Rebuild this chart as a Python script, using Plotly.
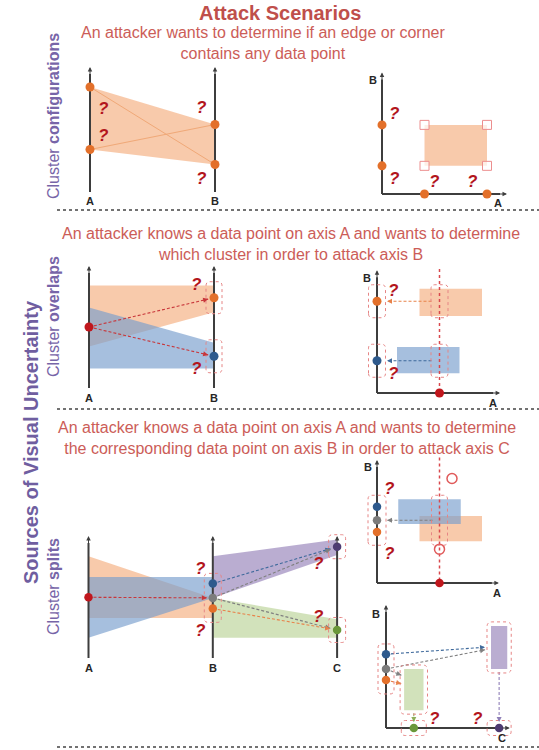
import math
import plotly.graph_objects as go

W, H = 539, 750

# ---------------- data (every attribute axis uses a 0-10 scale) ----------------
# top: one cluster on axes A and B
cfg_a = [3.4, 8.4]
cfg_b = [2.2, 5.4]
q1_x, q1_y = [0.11, 0.11, 0.89, 0.89], [6.7, 4.5, 6.8, 1.1]
q2_x, q2_y = [0.96, 0.96, 4.2, 7.2], [6.3, 1.2, 0.95, 0.95]

# middle: two overlapping clusters
ovl_orange_a = [3.4, 8.4]
ovl_orange_b = [6.2, 8.4]
ovl_blue_a = [1.6, 6.6]
ovl_blue_b = [1.6, 3.7]
ovl_known_a = 5.0
ovl_dots_b = [7.4, 2.6]            # orange, blue
q3_x, q3_y = [0.86, 0.86], [8.5, 1.6]
q4_x, q4_y = [1.3, 1.3], [8.3, 1.6]

# bottom: cluster splits on A, B, C
split_orange_a = [3.1, 8.3]
split_orange_b = [3.1, 4.8]
split_blue_a = [1.45, 6.55]
split_blue_b = [4.8, 6.55]
split_purple_b = [4.8, 8.3]
split_purple_c = [8.4, 9.7]
split_green_b = [1.45, 4.8]
split_green_c = [1.45, 3.0]
split_known_a = 4.85
split_dots_b = [6.0, 4.8, 3.9]     # blue, gray, orange
split_dots_c = [9.1, 2.1]          # purple, green
q5_x, q5_y = [0.9, 0.9, 1.85, 1.85], [7.3, 2.1, 7.7, 3.2]

# bottom scatter A-B
split_sc_blue_a = [1.7, 6.7]
split_sc_blue_b = [4.8, 6.8]
split_sc_orange_a = [3.4, 8.4]
split_sc_orange_b = [3.4, 5.45]
split_sc_known_a = 5.0
split_sc_dots_b = [6.2, 5.1, 4.15]
split_sc_ghost_a = [6.0, 5.0]
split_sc_ghost_b = [8.5, 2.75]
q6_x, q6_y = [0.96, 0.96], [7.7, 2.4]

# bottom scatter C-B
q7_x, q7_y = [3.9, 7.3], [0.8, 0.8]

# ---------------- styles ----------------
ORANGE_F = "rgba(244,170,120,0.62)"
BLUE_F = "rgba(118,156,204,0.65)"
PURPLE_F = "rgba(140,118,178,0.6)"
GREEN_F = "rgba(165,198,120,0.5)"
ORANGE, BLUE, GRAY, RED = "#e3702a", "#2e5a8d", "#7c7c7c", "#c0171d"
PURPLE, GREEN = "#4d3b72", "#6a983a"
A_RED, A_ORANGE, A_BLUE, A_GRAY = "#c8363a", "#e8824a", "#3f6a9c", "#808080"
BOX = "#e68585"
AXIS = "#3d3d3d"
QCOL = "#b3161d"
FONT = "Liberation Sans"
DASH = "3px,2px"

fig = go.Figure()
panels = {}


def names(n):
    s = "" if n == 1 else str(n)
    return "x" + s, "y" + s


def add_panel(n, ox, oy, ux, uy, xr, yr):
    xs, ys = names(n)
    left, right = ox + xr[0] * ux, ox + xr[1] * ux
    top, bottom = oy - yr[1] * uy, oy - yr[0] * uy
    fig.update_layout(**{
        "xaxis" + xs[1:]: dict(domain=[left / W, right / W], range=xr, visible=False,
                               fixedrange=True, anchor=ys),
        "yaxis" + ys[1:]: dict(domain=[1 - bottom / H, 1 - top / H], range=yr, visible=False,
                               fixedrange=True, anchor=xs),
    })
    panels[n] = (ux, uy)


def band(n, xs, ys, fill):
    xr, yr = names(n)
    fig.add_trace(go.Scatter(x=xs + xs[:1], y=ys + ys[:1], xaxis=xr, yaxis=yr, mode="lines",
                             fill="toself", fillcolor=fill, line=dict(width=0),
                             hoverinfo="skip", showlegend=False))


def rect(n, xa, yb, fill):
    band(n, [xa[0], xa[1], xa[1], xa[0]], [yb[0], yb[0], yb[1], yb[1]], fill)


def seg(n, x0, y0, x1, y1, color, width=1.0, dash="solid"):
    xr, yr = names(n)
    fig.add_trace(go.Scatter(x=[x0, x1], y=[y0, y1], xaxis=xr, yaxis=yr, mode="lines",
                             line=dict(color=color, width=width, dash=dash),
                             hoverinfo="skip", showlegend=False))


def head(n, x, y, dx, dy, color, width=1.0, size=1.0, length=5):
    xr, yr = names(n)
    fig.add_annotation(x=x, y=y, xref=xr, yref=yr, ax=-dx * length, ay=-dy * length,
                       text="", showarrow=True, arrowhead=2, arrowsize=size,
                       arrowwidth=width, arrowcolor=color)


def arrow(n, x0, y0, x1, y1, color, start_off=5, end_off=6, dash=DASH):
    ux, uy = panels[n]
    px, py = (x1 - x0) * ux, -(y1 - y0) * uy
    length = math.hypot(px, py)
    dx, dy = px / length, py / length
    sx, sy = x0 + start_off * dx / ux, y0 - start_off * dy / uy
    ex, ey = x1 - end_off * dx / ux, y1 + end_off * dy / uy
    seg(n, sx, sy, ex, ey, color, 1.1, dash)
    head(n, ex, ey, dx, dy, color, width=1.0, size=1.0, length=4)


def v_axis(n, x, y0, y1):
    uy = panels[n][1]
    seg(n, x, y0, x, y1 - 7 / uy, AXIS, 2)
    head(n, x, y1, 0, -1, AXIS, width=1.0, size=0.9, length=9)


def h_axis(n, y, x0, x1):
    ux = panels[n][0]
    seg(n, x0, y, x1 - 7 / ux, y, AXIS, 2)
    head(n, x1, y, 1, 0, AXIS, width=1.0, size=0.9, length=9)


def dots(n, xs, ys, colors, size=9):
    xr, yr = names(n)
    fig.add_trace(go.Scatter(x=xs, y=ys, xaxis=xr, yaxis=yr, mode="markers",
                             marker=dict(size=size, color=colors, line=dict(width=0)),
                             cliponaxis=False, hoverinfo="skip", showlegend=False))


def rbox(n, xc, yc, hw, hh, r=4):
    xr, yr = names(n)
    path = (f"M{-hw},{-hh + r} L{-hw},{hh - r} Q{-hw},{hh} {-hw + r},{hh} "
            f"L{hw - r},{hh} Q{hw},{hh} {hw},{hh - r} L{hw},{-hh + r} "
            f"Q{hw},{-hh} {hw - r},{-hh} L{-hw + r},{-hh} Q{-hw},{-hh} {-hw},{-hh + r} Z")
    fig.add_shape(type="path", xref=xr, yref=yr, xsizemode="pixel", ysizemode="pixel",
                  xanchor=xc, yanchor=yc, path=path,
                  line=dict(color=BOX, width=1, dash="dot"))


def wrap(n, xa, yb, pad=4):
    ux, uy = panels[n]
    rbox(n, (xa[0] + xa[1]) / 2, (yb[0] + yb[1]) / 2,
         (xa[1] - xa[0]) / 2 * ux + pad, (yb[1] - yb[0]) / 2 * uy + pad, r=5)


def corner(n, x, y):
    xr, yr = names(n)
    fig.add_shape(type="rect", xref=xr, yref=yr, xsizemode="pixel", ysizemode="pixel",
                  xanchor=x, yanchor=y, x0=-4.5, x1=4.5, y0=-4.5, y1=4.5,
                  line=dict(color="#ec8e8e", width=1), fillcolor="rgba(255,255,255,0.7)")


def qmarks(n, xs, ys):
    xr, yr = names(n)
    for x, y in zip(xs, ys):
        fig.add_annotation(x=x, y=y, xref=xr, yref=yr, text="<b><i>?</i></b>", showarrow=False,
                           font=dict(size=17, color=QCOL, family=FONT))


def label(n, x, y, text, xs=0, ys=0):
    xr, yr = names(n)
    fig.add_annotation(x=x, y=y, xref=xr, yref=yr, text=f"<b>{text}</b>", showarrow=False,
                       xshift=xs, yshift=ys, font=dict(size=11, color="#262626", family=FONT))


def paper_text(x, y, text, size, color, angle=0):
    fig.add_annotation(x=x / W, y=1 - y / H, xref="paper", yref="paper", text=text,
                       xanchor="center", yanchor="middle",
                       showarrow=False, textangle=angle, align="center",
                       font=dict(size=size, color=color, family=FONT))


# ---------------- panels ----------------
add_panel(1, 90, 192, 125, 12.5, [-0.35, 1.35], [-1.6, 11])
add_panel(2, 382, 194, 12.5, 12.8, [-1.5, 10.5], [-1.5, 10.5])
add_panel(3, 89, 388, 125, 12.2, [-0.35, 1.35], [-1.6, 11])
add_panel(4, 377, 393, 12.5, 12.4, [-1.5, 10.5], [-1.5, 10.8])
add_panel(5, 88.5, 655, 124.3, 11.9, [-0.35, 2.35], [-1.6, 11])
add_panel(6, 377, 583, 12.5, 12.3, [-1.5, 10.5], [-1.5, 11])
add_panel(7, 386, 728, 12.5, 12.3, [-1.5, 10.5], [-1.5, 10.5])

# --- top left: parallel coordinates, one cluster
band(1, [0, 1, 1, 0], [cfg_a[1], cfg_b[1], cfg_b[0], cfg_a[0]], ORANGE_F)
seg(1, 0, cfg_a[1], 1, cfg_b[0], "#f0a877", 1)
seg(1, 0, cfg_a[0], 1, cfg_b[1], "#f0a877", 1)
v_axis(1, 0, 0, 10)
v_axis(1, 1, 0, 10)
dots(1, [0, 0, 1, 1], cfg_a + cfg_b, ORANGE)
label(1, 0, 0, "A", ys=-9)
label(1, 1, 0, "B", ys=-9)
qmarks(1, q1_x, q1_y)

# --- top right: scatter A-B
rect(2, cfg_a, cfg_b, ORANGE_F)
h_axis(2, 0, 0, 10)
v_axis(2, 0, 0, 9.5)
dots(2, [0, 0] + cfg_a, cfg_b + [0, 0], ORANGE)
for xa in cfg_a:
    for yb in cfg_b:
        corner(2, xa, yb)
label(2, 0, 9.5, "B", xs=-9, ys=-8)
label(2, 10, 0, "A", xs=-9, ys=-9)
qmarks(2, q2_x, q2_y)

# --- middle left: parallel coordinates, overlapping clusters
band(3, [0, 1, 1, 0], [ovl_orange_a[1], ovl_orange_b[1], ovl_orange_b[0], ovl_orange_a[0]], ORANGE_F)
band(3, [0, 1, 1, 0], [ovl_blue_a[1], ovl_blue_b[1], ovl_blue_b[0], ovl_blue_a[0]], BLUE_F)
v_axis(3, 0, 0, 10)
v_axis(3, 1, 0, 10)
for yb in ovl_dots_b:
    arrow(3, 0, ovl_known_a, 1, yb, A_RED, start_off=5, end_off=6)
dots(3, [0, 1, 1], [ovl_known_a] + ovl_dots_b, [RED, ORANGE, BLUE])
rbox(3, 1, ovl_dots_b[0], 8, 16)
rbox(3, 1, ovl_dots_b[1], 8, 16.5)
label(3, 0, 0, "A", ys=-10)
label(3, 1, 0, "B", ys=-10)
qmarks(3, q3_x, q3_y)

# --- middle right: scatter A-B
rect(4, ovl_orange_a, ovl_orange_b, ORANGE_F)
rect(4, ovl_blue_a, ovl_blue_b, BLUE_F)
h_axis(4, 0, 0, 9.85)
v_axis(4, 0, 0, 9.9)
seg(4, ovl_known_a, 10, ovl_known_a, 0, "#d9484d", 1.5, "dot")
arrow(4, ovl_known_a, ovl_dots_b[0], 0, ovl_dots_b[0], A_ORANGE, start_off=8, end_off=10)
arrow(4, ovl_known_a, ovl_dots_b[1], 0, ovl_dots_b[1], A_BLUE, start_off=8, end_off=10)
dots(4, [0, 0, ovl_known_a], ovl_dots_b + [0], [ORANGE, BLUE, RED])
for yb in ovl_dots_b:
    rbox(4, 0, yb, 8.5, 16.5)
    rbox(4, ovl_known_a, yb, 8.5, 16.5)
label(4, 0, 9.9, "B", xs=-10, ys=-8)
label(4, 9.85, 0, "A", xs=-7, ys=-10)
qmarks(4, q4_x, q4_y)

# --- bottom left: parallel coordinates, cluster splits
band(5, [0, 1, 1, 0], [split_orange_a[1], split_orange_b[1], split_orange_b[0], split_orange_a[0]], ORANGE_F)
band(5, [0, 1, 1, 0], [split_blue_a[1], split_blue_b[1], split_blue_b[0], split_blue_a[0]], BLUE_F)
band(5, [1, 2, 2, 1], [split_purple_b[1], split_purple_c[1], split_purple_c[0], split_purple_b[0]], PURPLE_F)
band(5, [1, 2, 2, 1], [split_green_b[1], split_green_c[1], split_green_c[0], split_green_b[0]], GREEN_F)
for xi in range(3):
    v_axis(5, xi, -0.25, 10)
arrow(5, 0, split_known_a, 1, split_dots_b[1], A_RED, start_off=5, end_off=6)
arrow(5, 1, split_dots_b[0], 2, split_dots_c[0], A_BLUE, end_off=7)
arrow(5, 1, split_dots_b[1], 2, split_dots_c[0], A_GRAY, end_off=7)
arrow(5, 1, split_dots_b[1], 2, split_dots_c[1], A_GRAY, end_off=7)
arrow(5, 1, split_dots_b[2], 2, split_dots_c[1], A_ORANGE, end_off=7)
dots(5, [0, 1, 1, 1, 2, 2], [split_known_a] + split_dots_b + split_dots_c,
     [RED, BLUE, GRAY, ORANGE, PURPLE, GREEN], size=8.5)
rbox(5, 1, split_dots_b[1], 8.5, 24.5)
rbox(5, 2, split_dots_c[0], 8.5, 12)
rbox(5, 2, split_dots_c[1], 8.5, 12.5)
for xi, name in enumerate(["A", "B", "C"]):
    label(5, xi, -0.25, name, ys=-10)
qmarks(5, q5_x, q5_y)

# --- bottom right (upper): scatter A-B
rect(6, split_sc_orange_a, split_sc_orange_b, ORANGE_F)
rect(6, split_sc_blue_a, split_sc_blue_b, BLUE_F)
h_axis(6, 0, 0, 9.75)
v_axis(6, 0, 0, 10)
seg(6, split_sc_known_a, 10.2, split_sc_known_a, 0, "#d9484d", 1.5, "dot")
xr6, yr6 = names(6)
fig.add_trace(go.Scatter(x=split_sc_ghost_a, y=split_sc_ghost_b, xaxis=xr6, yaxis=yr6,
                         mode="markers", cliponaxis=False, hoverinfo="skip", showlegend=False,
                         marker=dict(size=10, symbol="circle-open", color="#e05a5a",
                                     line=dict(width=1.5))))
arrow(6, split_sc_known_a, split_sc_dots_b[1], 0, split_sc_dots_b[1], A_GRAY, start_off=7, end_off=10)
dots(6, [0, 0, 0, split_sc_known_a], split_sc_dots_b + [0], [BLUE, GRAY, ORANGE, RED], size=8.5)
rbox(6, 0, split_sc_dots_b[1], 9, 25)
rbox(6, split_sc_known_a, split_sc_dots_b[1], 8, 25)
label(6, 0, 10, "B", xs=-9, ys=-7)
label(6, 9.75, 0, "A", xs=-2, ys=-10)
qmarks(6, q6_x, q6_y)

# --- bottom right (lower): scatter C-B
green_c_mid = (split_green_c[0] + split_green_c[1]) / 2
purple_c_mid = (split_purple_c[0] + split_purple_c[1]) / 2
rect(7, split_green_c, split_green_b, GREEN_F)
rect(7, split_purple_c, split_purple_b, PURPLE_F)
h_axis(7, 0, 0, 9.9)
v_axis(7, 0, 0, 10)
arrow(7, 0, split_dots_b[0], split_purple_c[0], 6.6, A_BLUE, start_off=5, end_off=6)
arrow(7, 0, split_dots_b[1], split_purple_c[0], 6.45, A_GRAY, start_off=5, end_off=6)
arrow(7, 0, split_dots_b[1], split_green_c[0], 4.2, A_GRAY, start_off=5, end_off=3)
arrow(7, 0, split_dots_b[2], split_green_c[0], 3.55, A_ORANGE, start_off=5, end_off=3)
arrow(7, green_c_mid, split_green_b[0], green_c_mid, 0, "#8db05a", start_off=3, end_off=6)
arrow(7, purple_c_mid, split_purple_b[0], purple_c_mid, 0, "#8f7fb8", start_off=3, end_off=6)
dots(7, [0, 0, 0, green_c_mid, purple_c_mid], split_dots_b + [0, 0],
     [BLUE, GRAY, ORANGE, GREEN, PURPLE], size=8.5)
rbox(7, 0, split_dots_b[1], 8, 25)
wrap(7, split_green_c, split_green_b, pad=4)
wrap(7, split_purple_c, split_purple_b, pad=4)
rbox(7, green_c_mid, 0, 12.5, 7.5)
rbox(7, purple_c_mid, 0, 12, 7.5)
label(7, 0, 10, "B", xs=-10, ys=-9)
label(7, 9.9, 0, "C", xs=-8, ys=-10)
qmarks(7, q7_x, q7_y)

# ---------------- texts and separators ----------------
TITLE_COL, SUB_COL, SIDE_COL = "#bf4f4b", "#cc5d58", "#7765a8"
paper_text(280, 13, "<b>Attack Scenarios</b>", 20, TITLE_COL)
paper_text(263, 43, "An attacker wants to determine if an edge or corner<br>contains any data point",
           16, SUB_COL)
paper_text(291, 244, "An attacker knows a data point on axis A and wants to determine<br>"
                     "which cluster in order to attack axis B", 16, SUB_COL)
paper_text(287, 437.5, "An attacker knows a data point on axis A and wants to determine<br>"
                       "the corresponding data point on axis B in order to attack axis C", 16, SUB_COL)
paper_text(53, 116, "Cluster <b>configurations</b>", 16, SIDE_COL, -90)
paper_text(53, 316, "Cluster <b>overlaps</b>", 16, SIDE_COL, -90)
paper_text(53, 586, "Cluster <b>splits</b>", 16, SIDE_COL, -90)
paper_text(31, 442, "<b>Sources of Visual Uncertainty</b>", 20, "#6f5ea0", -90)

for ys in [210, 409, 747]:
    fig.add_shape(type="line", xref="paper", yref="paper", x0=57 / W, x1=1,
                  y0=1 - ys / H, y1=1 - ys / H, line=dict(color="#444444", width=1.5, dash="dot"))

fig.update_layout(width=W, height=H, margin=dict(l=0, r=0, t=0, b=0),
                  paper_bgcolor="white", plot_bgcolor="rgba(0,0,0,0)", showlegend=False)

fig.write_html("out.html", config={"displayModeBar": False},
               post_script="document.body.style.margin='0';")
